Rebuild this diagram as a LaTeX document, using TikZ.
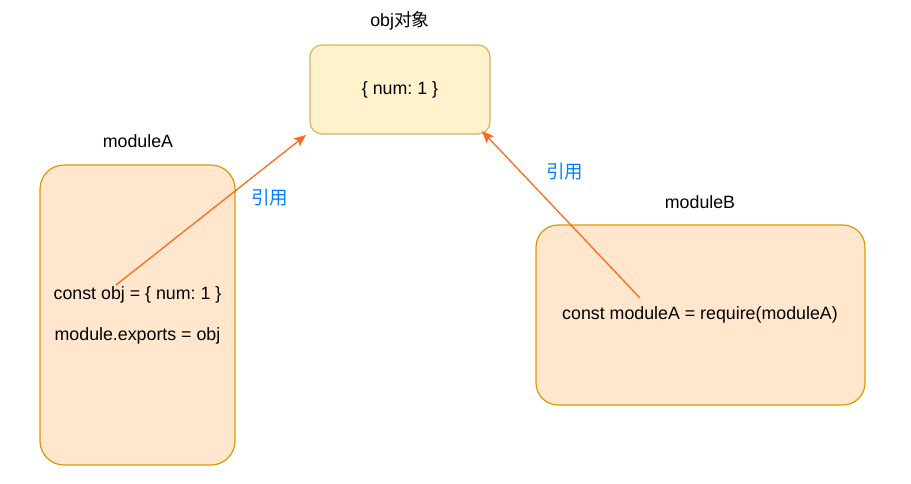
\documentclass[tikz,border=0pt]{standalone}
\usepackage{fontspec}
\setmainfont{Liberation Sans}
\newfontfamily\cjk{Noto Sans CJK SC}
\usetikzlibrary{arrows.meta}
\definecolor{objfill}{HTML}{FFF2CC}
\definecolor{objline}{HTML}{D6B656}
\definecolor{modfill}{HTML}{FFE6CC}
\definecolor{modline}{HTML}{D79B00}
\definecolor{arr}{HTML}{FF6A1F}
\definecolor{lbl}{HTML}{007FFF}
\tikzset{
  objbox/.style={draw=objline, fill=objfill, line width=1.2pt, rounded corners=12pt, inner sep=0pt},
  modbox/.style={draw=modline, fill=modfill, line width=1.2pt, inner sep=0pt},
  txt/.style={font=\fontsize{17.8}{20}\selectfont, inner sep=0pt, text=black},
  reflbl/.style={font=\fontsize{18.5}{20}\selectfont\cjk, text=lbl, inner sep=0pt},
  refarrow/.style={draw=arr, line width=1.3pt, -{Stealth[length=12pt,width=10pt,inset=2.5pt]}}
}
\frenchspacing
\begin{document}
\begin{tikzpicture}[x=1pt,y=-1pt]
\useasboundingbox (0,0) rectangle (911,483);
% boxes
\node[objbox, minimum width=180pt, minimum height=89pt] (obj) at (400,89.5) {};
\node[modbox, rounded corners=24pt, minimum width=195pt, minimum height=300pt] (ma) at (137.5,315) {};
\node[modbox, rounded corners=22pt, minimum width=329pt, minimum height=180pt] (mb) at (700.5,315) {};
% titles
\node[txt] (objt) at (400,21) {obj{\cjk 对象}};
\node[txt] (mat) at (138,141) {moduleA};
\node[txt] (mbt) at (700,202) {moduleB};
% contents
\node[txt] (objc) at (400,90) {\{ num: 1 \}};
\node[txt] (ma1) at (137.5,295) {const obj = \{ num: 1 \}};
\node[txt] (ma2) at (137.5,336) {module.exports = obj};
\node[txt] (mb1) at (700,315) {const moduleA = require(moduleA)};
% arrow ends
\coordinate (s1) at (116,285);
\coordinate (e1) at (306,135);
\coordinate (s2) at (640,298);
\coordinate (e2) at (482,131);
\draw[refarrow] (s1) -- (e1);
\draw[refarrow] (s2) -- (e2);
% labels
\node[reflbl] (l1) at (269.5,198) {引用};
\node[reflbl] (l2) at (564.5,172) {引用};
\end{tikzpicture}
\end{document}
